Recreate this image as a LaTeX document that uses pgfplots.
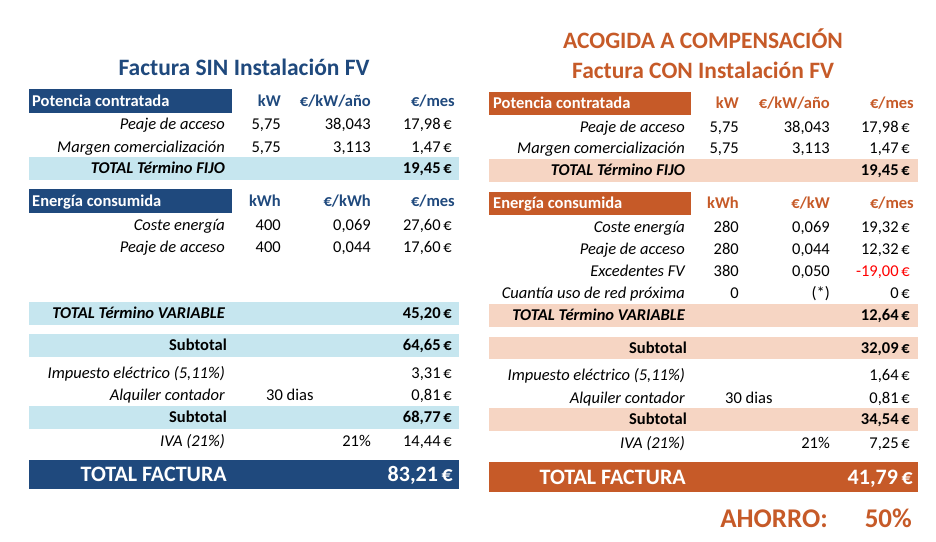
\documentclass[border=0pt]{standalone}
\usepackage{pgfplots}
\pgfplotsset{compat=1.18}
\usepackage{fontspec}
\setmainfont{Carlito}
\definecolor{dblue}{HTML}{1F497D}
\definecolor{lblue}{HTML}{C6E6EF}
\definecolor{dorng}{HTML}{C65A28}
\definecolor{lorng}{HTML}{F6D5C3}
\newcommand{\bs}{\fontsize{16.5}{19}\selectfont}
\newcommand{\tf}{\fontsize{23.5}{26}\selectfont\bfseries}
\newcommand{\ff}{\fontsize{22}{25}\selectfont\bfseries}
% right aligned text, y = row centre
\newcommand{\R}[4][]{\node[anchor=base east,inner sep=0pt,yshift=-5.3pt,font=\bs,#1] at (axis cs:#2,#3) {#4};}
\newcommand{\Lt}[4][]{\node[anchor=base west,inner sep=0pt,yshift=-5.3pt,font=\bs,#1] at (axis cs:#2,#3) {#4};}
\newcommand{\cellbg}[5]{\addplot[fill=#5,draw=none] coordinates {(#1,#2) (#3,#2) (#3,#4) (#1,#4)} -- cycle;}
\begin{document}
\begin{tikzpicture}
\begin{axis}[width=936pt,height=541pt,scale only axis,xmin=0,xmax=936,ymin=0,ymax=541,
  y dir=reverse,hide axis,clip=false]
\path[use as bounding box] (axis cs:0,0) rectangle (axis cs:936,541);
% ---------- backgrounds left
\cellbg{29}{89}{232}{113}{dblue}
\cellbg{29}{157}{459}{180}{lblue}
\cellbg{29}{189}{232}{213}{dblue}
\cellbg{29}{302}{459}{325}{lblue}
\cellbg{29}{334}{459}{357}{lblue}
\cellbg{29}{406}{459}{429}{lblue}
\cellbg{29}{460}{459}{489}{dblue}
% ---------- backgrounds right
\cellbg{489}{92}{691}{115}{dorng}
\cellbg{489}{159}{918}{182}{lorng}
\cellbg{489}{192}{691}{215}{dorng}
\cellbg{489}{304}{918}{327}{lorng}
\cellbg{489}{337}{918}{359}{lorng}
\cellbg{489}{408}{918}{431}{lorng}
\cellbg{489}{462}{918}{492}{dorng}
% ---------- titles
\node[anchor=center,font=\tf,text=dblue] at (axis cs:244,67) {Factura SIN Instalación FV};
\node[anchor=center,font=\tf,text=dorng] at (axis cs:703,39) {ACOGIDA A COMPENSACIÓN};
\node[anchor=center,font=\tf,text=dorng] at (axis cs:703,70) {Factura CON Instalación FV};
% ---------- left table
\Lt[text=white,font=\bs\bfseries]{32}{101}{Potencia contratada}
\R[text=dblue,font=\bs\bfseries]{281}{101}{kW}
\R[text=dblue,font=\bs\bfseries]{371}{101}{€/kW/año}
\R[text=dblue,font=\bs\bfseries]{455}{101}{€/mes}
\R[font=\bs\itshape]{225}{124}{Peaje de acceso}
\R{281}{124}{5,75}\R{371}{124}{38,043}\R{452}{124}{17,98\,€}
\R[font=\bs\itshape]{225}{147}{Margen comercialización}
\R{281}{147}{5,75}\R{371}{147}{3,113}\R{452}{147}{1,47\,€}
\R[font=\bs\bfseries\itshape]{225}{168.5}{TOTAL Término FIJO}
\R[font=\bs\bfseries]{452}{168.5}{19,45\,€}
\Lt[text=white,font=\bs\bfseries]{32}{201}{Energía consumida}
\R[text=dblue,font=\bs\bfseries]{281}{201}{kWh}
\R[text=dblue,font=\bs\bfseries]{371}{201}{€/kWh}
\R[text=dblue,font=\bs\bfseries]{455}{201}{€/mes}
\R[font=\bs\itshape]{225}{225}{Coste energía}
\R{281}{225}{400}\R{371}{225}{0,069}\R{452}{225}{27,60\,€}
\R[font=\bs\itshape]{225}{247}{Peaje de acceso}
\R{281}{247}{400}\R{371}{247}{0,044}\R{452}{247}{17,60\,€}
\R[font=\bs\bfseries\itshape]{225}{313.5}{TOTAL Término VARIABLE}
\R[font=\bs\bfseries]{452}{313.5}{45,20\,€}
\R[font=\bs\bfseries]{227}{345.5}{Subtotal}
\R[font=\bs\bfseries]{452}{345.5}{64,65\,€}
\R[font=\bs\itshape]{225}{373}{Impuesto eléctrico (5,11\%)}
\R{452}{373}{3,31\,€}
\R[font=\bs\itshape]{225}{395}{Alquiler contador}
\Lt{266}{395}{30 dias}
\R{452}{395}{0,81\,€}
\R[font=\bs\bfseries]{227}{417.5}{Subtotal}
\R[font=\bs\bfseries]{452}{417.5}{68,77\,€}
\R[font=\bs\itshape]{225}{441}{IVA (21\%)}
\R{371}{441}{21\%}\R{452}{441}{14,44\,€}
\node[anchor=base east,inner sep=0pt,yshift=-7pt,text=white,font=\ff] at (axis cs:227,474.5) {TOTAL FACTURA};
\node[anchor=base east,inner sep=0pt,yshift=-7pt,text=white,font=\ff] at (axis cs:453,474.5) {83,21\,€};
% ---------- right table
\Lt[text=white,font=\bs\bfseries]{493}{103.5}{Potencia contratada}
\R[text=dorng,font=\bs\bfseries]{739}{103.5}{kW}
\R[text=dorng,font=\bs\bfseries]{830}{103.5}{€/kW/año}
\R[text=dorng,font=\bs\bfseries]{914}{103.5}{€/mes}
\R[font=\bs\itshape]{685}{127}{Peaje de acceso}
\R{739}{127}{5,75}\R{830}{127}{38,043}\R{910}{127}{17,98\,€}
\R[font=\bs\itshape]{685}{148}{Margen comercialización}
\R{739}{148}{5,75}\R{830}{148}{3,113}\R{910}{148}{1,47\,€}
\R[font=\bs\bfseries\itshape]{685}{170.5}{TOTAL Término FIJO}
\R[font=\bs\bfseries]{910}{170.5}{19,45\,€}
\Lt[text=white,font=\bs\bfseries]{493}{203.5}{Energía consumida}
\R[text=dorng,font=\bs\bfseries]{739}{203.5}{kWh}
\R[text=dorng,font=\bs\bfseries]{830}{203.5}{€/kW}
\R[text=dorng,font=\bs\bfseries]{914}{203.5}{€/mes}
\R[font=\bs\itshape]{685}{227}{Coste energía}
\R{739}{227}{280}\R{830}{227}{0,069}\R{910}{227}{19,32\,€}
\R[font=\bs\itshape]{685}{249}{Peaje de acceso}
\R{739}{249}{280}\R{830}{249}{0,044}\R{910}{249}{12,32\,€}
\R[font=\bs\itshape]{685}{271}{Excedentes FV}
\R{739}{271}{380}\R{830}{271}{0,050}\R[text=red]{910}{271}{-19,00\,€}
\R[font=\bs\itshape]{685}{293}{Cuantía uso de red próxima}
\R{739}{293}{0}\R{830}{293}{(*)}\R{910}{293}{0\,€}
\R[font=\bs\bfseries\itshape]{685}{315.5}{TOTAL Término VARIABLE}
\R[font=\bs\bfseries]{910}{315.5}{12,64\,€}
\R[font=\bs\bfseries]{687}{348}{Subtotal}
\R[font=\bs\bfseries]{910}{348}{32,09\,€}
\R[font=\bs\itshape]{685}{375}{Impuesto eléctrico (5,11\%)}
\R{910}{375}{1,64\,€}
\R[font=\bs\itshape]{685}{398}{Alquiler contador}
\Lt{725}{398}{30 dias}
\R{910}{398}{0,81\,€}
\R[font=\bs\bfseries]{687}{419.5}{Subtotal}
\R[font=\bs\bfseries]{910}{419.5}{34,54\,€}
\R[font=\bs\itshape]{685}{443}{IVA (21\%)}
\R{830}{443}{21\%}\R{910}{443}{7,25\,€}
\node[anchor=base east,inner sep=0pt,yshift=-7pt,text=white,font=\ff] at (axis cs:686,477) {TOTAL FACTURA};
\node[anchor=base east,inner sep=0pt,yshift=-7pt,text=white,font=\ff] at (axis cs:913,477) {41,79\,€};
\node[anchor=base east,inner sep=0pt,yshift=-9pt,text=dorng,font=\fontsize{27}{30}\selectfont\bfseries] at (axis cs:828,518) {AHORRO:};
\node[anchor=base east,inner sep=0pt,yshift=-9pt,text=dorng,font=\fontsize{27}{30}\selectfont\bfseries] at (axis cs:912,518) {50\%};
\end{axis}
\end{tikzpicture}
\end{document}
